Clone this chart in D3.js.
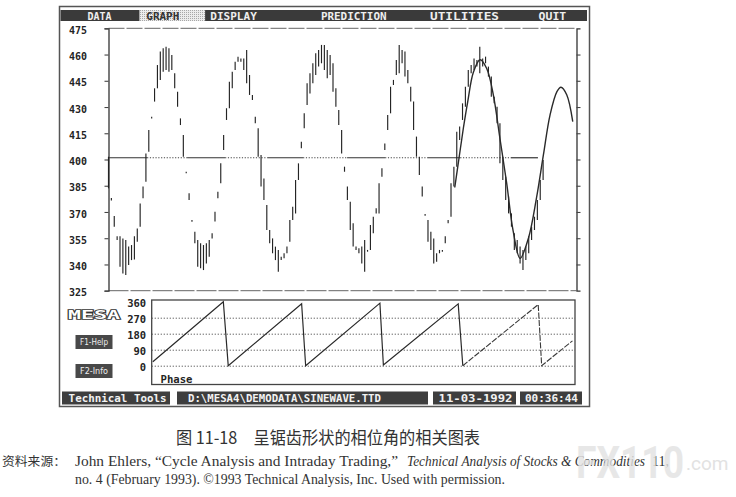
<!DOCTYPE html>
<html>
<head>
<meta charset="utf-8">
<script src="https://cdn.jsdelivr.net/npm/d3@7"></script>
<style>
body{margin:0;background:#fff;}
svg{display:block;}
.scr{font-family:"DejaVu Sans Mono",monospace;font-weight:bold;}
</style>
</head>
<body>
<svg id="chart" width="736" height="497"></svg>
<script>
var priceTicks=[475,460,445,430,415,400,385,370,355,340,325];
var phaseTicks=[360,270,180,90,0];

// high / low of each bar (bar index = position in array)
var barHigh=[401.6,378,367.7,356.1,356.1,354.9,354,350.2,351.1,356.1,360.6,374.9,384.5,403.5,416.9,424.5,440.7,454,461.7,463.6,
  464.5,463.6,459.8,449.3,438.8,423.5,414,393,380.7,365.4,358.7,354,352.1,351.1,352.1,354,357.8,370.2,381.6,397.8,
  414,429.3,444.5,450.2,455.9,458.8,457.8,457.8,462.6,448.3,436.9,424.5,417.8,402.6,389.2,374,359.7,354.9,350.2,348.3,
  344.4,346.4,350.2,365.4,373,388.3,397.8,410.2,426.4,443.6,449.3,455,460.7,462.6,465.5,465.5,462.6,459.8,455,440.7,
  428.3,416.9,395.9,384.5,375.9,363.5,350.2,349.2,350.2,354,348.3,362.6,367.3,372.1,386.4,395,409.2,425.4,441.6,445.5,
  456.9,465.5,462.6,461.7,451.2,441.6,433.1,413.1,401.6,384.5,368.8,365.4,358.7,354.9,346.4,348.3,348.3,356.1,365.4,386.4,
  395.9,415.9,418.8,432.1,441.6,451.2,454,457.8,456.9,464.5,457.8,458.8,453.1,447.4,435.9,430.2,420.7,401.6,390.2,378.8,
  369.2,357.8,354,350.2,348.3,350.2,356.1,361.6,367.3,376.8,388.3,399.7];
var barLow=[383.5,376.5,361.6,354,338.7,334.9,334,339.7,342.5,342.9,353,361.6,377.8,387.3,404.5,423.5,433.1,440.7,445.5,450.2,
  451.2,450.2,451.2,440.7,430.2,419.7,401.6,392.1,376.8,364.5,352.1,338.7,337.8,336.8,340.6,344.4,354.9,364.5,377.8,386.4,
  405.4,422.6,429.3,440.7,451.2,455.9,455.9,451.2,443.6,436.9,434,420.7,401.6,384.5,376.8,359.7,352.1,346.4,342.5,335.9,
  342.5,343.5,346.4,353,365.4,369.2,388.3,406.4,417.8,431.2,437.8,443.6,448.3,453.1,455,451.2,446.4,448.3,438.8,430.2,
  419.7,403.5,393,376.8,359.7,350.2,348.3,346.4,340.6,335.9,347.3,348.3,357.8,369.2,369.2,390.2,405.4,416.9,426.4,442.6,
  448.3,449.3,455,447.4,443.6,433.1,416.9,401.6,391.1,378.8,367.8,353,348.3,340.6,341.6,346.4,347.3,352.1,363.5,367.3,
  384.5,395.9,411.2,422.6,430.2,441.6,449.3,451.2,453.1,449.3,453.1,455,447.4,435.9,432.1,420.7,397.8,388.3,376.8,369.2,
  361.6,348.3,346.4,340.6,336.8,342.5,346.4,354,359.7,365.4,376.8,388.3];

// MESA prediction curve (bar index, price)
var predBar=[120.3,121.8,123.3,124.8,126.8,129.1,131.4,133.7,136,138.3,140.6,143,145.9,148.7,151.1,153.4,155.8,157.2,159.2,161.3];
var predVal=[384,401,418,433,450,457,452,437,412,387,359,343.5,355,378,402.6,425.4,438.8,441.3,437,421.6];

// phase sawtooth vertices (bar index, degrees)
var phaseBar=[15.4,39.9,41.6,67.1,68.5,94.3,95.5,121.5,123.1,149.3,150.5,161.2];
var phaseVal=[22,360,0,348,0,352,4,348,0,344,0,140];

// level line and its solid stretches (bar index)
var refLevel=401;
var refSolidFrom=[0,27.3,55.4,82.9,111,139.8];
var refSolidTo=[13.4,40.5,67.6,96.1,122.2,149.2];

var menuItems=["DATA","GRAPH","DISPLAY","PREDICTION","UTILITIES","QUIT"];
var statusItems=["Technical Tools","D:\\MESA4\\DEMODATA\\SINEWAVE.TTD","11-03-1992","00:36:44"];
var caption="图 11-18　呈锯齿形状的相位角的相关图表";

// ---- drawing ----
var svg=d3.select("#chart");
var ink="#242424";

var xs=d3.scaleLinear().domain([0,162.6]).range([108.5,576.5]);
var ys=d3.scaleLinear().domain([325,475]).range([290.7,28.3]);
var yp=d3.scaleLinear().domain([0,360]).range([365.7,301.7]);

var defs=svg.append("defs");
var pat=defs.append("pattern").attr("id","dots").attr("width",2).attr("height",2).attr("patternUnits","userSpaceOnUse");
pat.append("rect").attr("width",2).attr("height",2).attr("fill","#ececec");
pat.append("rect").attr("width",1).attr("height",1).attr("fill","#a8a8a8");
defs.append("clipPath").attr("id","phaseClip").append("rect")
    .attr("x",151.7).attr("y",300).attr("width",423.3).attr("height",84.5);

// outer screen frame
svg.append("rect").attr("x",59.5).attr("y",6.5).attr("width",530).attr("height",400)
    .attr("fill","none").attr("stroke","#555").attr("stroke-width",1.5);

// menu bar
svg.append("rect").attr("x",60.5).attr("y",10).attr("width",526.5).attr("height",11).attr("fill","#3a3a3a");
var menuPos=[[87.6,24],[146.3,33],[210.3,46.5],[320.9,65.7],[430,69],[538.6,27.7]];
svg.append("rect").attr("x",139.4).attr("y",10).attr("width",65.7).attr("height",11).attr("fill","url(#dots)");
svg.selectAll("text.menu").data(menuItems).enter().append("text")
    .attr("class","scr menu")
    .attr("x",function(d,i){return menuPos[i][0];})
    .attr("y",19.5)
    .attr("textLength",function(d,i){return menuPos[i][1];})
    .attr("lengthAdjust","spacingAndGlyphs")
    .style("font-size","10px")
    .attr("fill",function(d){return d=="GRAPH"?"#333":"#eee";})
    .text(function(d){return d;});

// price panel frame
var frame=svg.append("g").attr("stroke","#3a3a3a").attr("fill","none");
frame.append("line").attr("x1",xs(0)).attr("x2",xs(162.6)).attr("y1",ys(475)).attr("y2",ys(475))
    .attr("stroke","#666").attr("stroke-dasharray","16,2");
frame.append("line").attr("x1",xs(0)).attr("x2",xs(162.6)).attr("y1",ys(325)).attr("y2",ys(325))
    .attr("stroke","#666").attr("stroke-dasharray","20,2");

var yAxisL=svg.append("g").attr("transform","translate("+xs(0)+",0)")
    .call(d3.axisLeft(ys).tickValues(priceTicks).tickSize(4).tickPadding(17.5));
var yAxisR=svg.append("g").attr("transform","translate("+xs(162.6)+",0)")
    .call(d3.axisRight(ys).tickValues(priceTicks.slice(1,-1)).tickSize(4).tickFormat(""));
[yAxisL,yAxisR].forEach(function(a){
    a.select(".domain").attr("stroke","#333").attr("stroke-width",1.3);
    a.selectAll(".tick line").attr("stroke","#444").attr("stroke-width",1.1);
});
yAxisL.selectAll(".tick text").attr("class","scr").attr("fill",ink).attr("y",1.5)
    .style("font-size","11px").attr("textLength",18).attr("lengthAdjust","spacingAndGlyphs");

// level line: solid stretches and dotted gaps
var solidSegs=refSolidFrom.map(function(s,i){return [s,refSolidTo[i]];});
var dotSegs=refSolidTo.slice(0,-1).map(function(s,i){return [s,refSolidFrom[i+1]];});
svg.selectAll("line.lvl").data(solidSegs).enter().append("line").attr("class","lvl")
    .attr("x1",function(d){return xs(d[0]);}).attr("x2",function(d){return xs(d[1]);})
    .attr("y1",ys(refLevel)).attr("y2",ys(refLevel))
    .attr("stroke","#333").attr("stroke-width",1.2);
svg.selectAll("line.lvd").data(dotSegs).enter().append("line").attr("class","lvd")
    .attr("x1",function(d){return xs(d[0]);}).attr("x2",function(d){return xs(d[1]);})
    .attr("y1",ys(refLevel)).attr("y2",ys(refLevel))
    .attr("stroke","#444").attr("stroke-width",1.1).attr("stroke-dasharray","1.2,1.6");

// bars
svg.selectAll("line.bar").data(d3.range(barHigh.length)).enter().append("line").attr("class","bar")
    .attr("x1",function(i){return xs(i);}).attr("x2",function(i){return xs(i);})
    .attr("y1",function(i){return ys(barHigh[i]);})
    .attr("y2",function(i){return Math.max(ys(barLow[i]),ys(barHigh[i])+1.6);})
    .attr("stroke",ink).attr("stroke-width",1.15);

// prediction curve
var predLine=d3.line().x(function(d){return xs(d[0]);}).y(function(d){return ys(d[1]);})
    .curve(d3.curveCatmullRom.alpha(0.5));
svg.append("path").datum(predBar.map(function(b,i){return [b,predVal[i]];}))
    .attr("d",predLine).attr("fill","none").attr("stroke","#2a2a2a").attr("stroke-width",1.4);

// phase panel
svg.append("rect").attr("x",151.7).attr("y",300).attr("width",423.3).attr("height",84.5)
    .attr("fill","none").attr("stroke","#444").attr("stroke-width",1.3);
var grid=svg.append("g").attr("transform","translate(151.7,0)")
    .call(d3.axisLeft(yp).tickValues([270,180,90,0]).tickSize(-423.3).tickFormat(""));
grid.select(".domain").remove();
grid.selectAll(".tick line").attr("stroke","#555").attr("stroke-dasharray","1.2,1.8");
var pAxis=svg.append("g").attr("transform","translate(151.7,0)")
    .call(d3.axisLeft(yp).tickValues(phaseTicks).tickSize(0).tickPadding(5.5));
pAxis.select(".domain").remove();
pAxis.selectAll(".tick text").attr("class","scr").attr("fill",ink).attr("y",1)
    .style("font-size","10.5px");

var pts=phaseBar.map(function(b,i){return [b,phaseVal[i]];});
var pLine=d3.line().x(function(d){return xs(d[0]);}).y(function(d){return yp(d[1]);});
var pg=svg.append("g").attr("clip-path","url(#phaseClip)");
pg.append("path").datum(pts.slice(0,9)).attr("d",pLine)
    .attr("fill","none").attr("stroke","#2a2a2a").attr("stroke-width",1.2);
pg.append("path").datum(pts.slice(8)).attr("d",pLine)
    .attr("fill","none").attr("stroke","#3a3a3a").attr("stroke-width",1.1).attr("stroke-dasharray","6,1.5");
svg.append("text").attr("class","scr").attr("x",160.5).attr("y",383).attr("fill",ink)
    .style("font-size","11px").attr("textLength",32).attr("lengthAdjust","spacingAndGlyphs").text("Phase");

// left side logo and key buttons
svg.append("text").attr("class","scr").attr("x",68).attr("y",318.5)
    .attr("fill","#fff").attr("stroke","#333").attr("stroke-width",1.6).attr("paint-order","stroke")
    .style("font-size","13px").attr("textLength",52).attr("lengthAdjust","spacingAndGlyphs").text("MESA");
[["F1-Help",335],["F2-Info",364]].forEach(function(k){
    svg.append("rect").attr("x",75.5).attr("y",k[1]).attr("width",37).attr("height",14).attr("fill","#484848");
    svg.append("text").attr("x",94).attr("y",k[1]+10).attr("text-anchor","middle")
        .attr("fill","#eee").style("font-family","DejaVu Sans Condensed").style("font-size","8.5px")
        .attr("textLength",28).attr("lengthAdjust","spacingAndGlyphs").text(k[0]);
});

// status bar
var statusBox=[[62,108,68.6,98],[177,251,188,193],[433,83,438.5,74],[520,62,525,53]];
svg.selectAll("rect.st").data(statusItems).enter().append("rect").attr("class","st")
    .attr("x",function(d,i){return statusBox[i][0];}).attr("y",391.5)
    .attr("width",function(d,i){return statusBox[i][1];}).attr("height",13)
    .attr("fill","#3e3e3e");
svg.selectAll("text.st").data(statusItems).enter().append("text").attr("class","scr st")
    .attr("x",function(d,i){return statusBox[i][2];}).attr("y",402)
    .attr("textLength",function(d,i){return statusBox[i][3];}).attr("lengthAdjust","spacingAndGlyphs")
    .attr("fill","#f2f2f2").style("font-size","11px")
    .text(function(d){return d;});

// caption and source
svg.append("text").attr("x",176).attr("y",444).attr("fill","#333")
    .style("font-family","Noto Sans CJK SC").style("font-size","17.5px")
    .attr("textLength",304).attr("lengthAdjust","spacingAndGlyphs").text(caption);
var src=svg.append("g").attr("fill","#333");
src.append("text").attr("x",2).attr("y",466).style("font-family","Noto Sans CJK SC").style("font-size","12.5px")
    .attr("textLength",64).attr("lengthAdjust","spacingAndGlyphs").text("资料来源：");
src.append("text").attr("x",75).attr("y",466).style("font-family","Liberation Serif").style("font-size","14px")
    .attr("textLength",323).attr("lengthAdjust","spacingAndGlyphs")
    .text("John Ehlers, \u201cCycle Analysis and Intraday Trading,\u201d");
src.append("text").attr("x",407).attr("y",466).style("font-family","Liberation Serif").style("font-size","14px")
    .style("font-style","italic").attr("textLength",238).attr("lengthAdjust","spacingAndGlyphs")
    .text("Technical Analysis of Stocks & Commodities");
src.append("text").attr("x",652).attr("y",466).style("font-family","Liberation Serif").style("font-size","14px")
    .text("11,");
src.append("text").attr("x",75).attr("y",484).style("font-family","Liberation Serif").style("font-size","14px")
    .attr("textLength",430).attr("lengthAdjust","spacingAndGlyphs")
    .text("no. 4 (February 1993). \u00a91993 Technical Analysis, Inc. Used with permission.");

// faint watermark
svg.append("text").attr("x",576).attr("y",478).attr("fill","#e2e2e2").attr("opacity",0.8)
    .style("font-family","Roboto").style("font-weight","bold").style("font-size","44px")
    .attr("textLength",108).attr("lengthAdjust","spacingAndGlyphs").text("FX110");
svg.append("text").attr("x",686).attr("y",470).attr("fill","#e2e2e2")
    .style("font-family","Roboto").style("font-size","19px").text(".com");
</script>
</body>
</html>
